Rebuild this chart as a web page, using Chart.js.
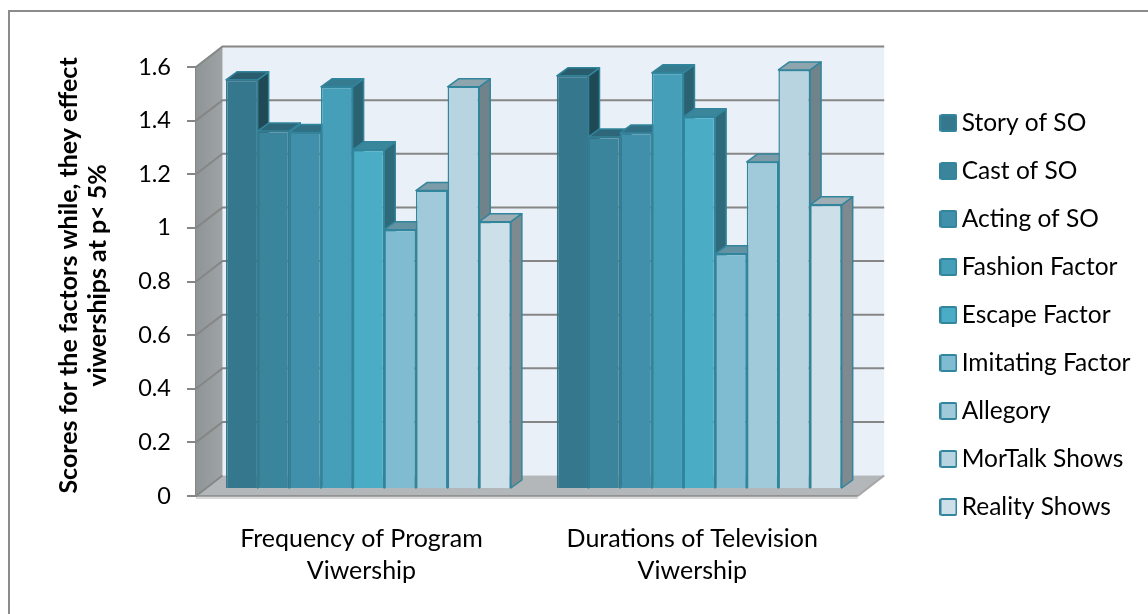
<!DOCTYPE html>
<html><head><meta charset="utf-8">
<style>html,body{margin:0;padding:0;background:#fff}canvas{display:block}</style>
<script src="https://cdn.jsdelivr.net/npm/chart.js@4"></script>
</head><body>
<div style="width:1148px;height:614px"><canvas id="c" width="1148" height="614"></canvas></div>
<script>
const categories = [["Frequency of Program","Viwership"],["Durations of Television","Viwership"]];
const storyOfSO = [1.526,1.541];
const castOfSO = [1.335,1.313];
const actingOfSO = [1.33,1.328];
const fashionFactor = [1.50,1.552];
const escapeFactor = [1.265,1.388];
const imitatingFactor = [0.967,0.877];
const allegory = [1.113,1.22];
const morTalkShows = [1.50,1.563];
const realityShows = [0.997,1.06];
const seriesNames = ["Story of SO","Cast of SO","Acting of SO","Fashion Factor","Escape Factor","Imitating Factor","Allegory","MorTalk Shows","Reality Shows"];
const seriesValues = [storyOfSO,castOfSO,actingOfSO,fashionFactor,escapeFactor,imitatingFactor,allegory,morTalkShows,realityShows];
const seriesColors = ["#35778c","#3a859c","#408fab","#469fb9","#4bacc6","#7fbcd2","#a0c9d9","#b7d4e0","#cde0e9"];
const frontEdges = ["#35778c","#36798f","#38829a","#31859c","#31859c","#31859c","#31859c","#31859c","#31859c"];
const edgeColor = "#31859c";
const FONT = "Lato, Carlito, sans-serif";
const BAR_DX=7, BAR_DY=-7, BAR_DEPTH_X=11, BAR_DEPTH_Y=-8, WALL_DX=26.5, WALL_DY=-20.5;

function shade(hex,f){const n=parseInt(hex.slice(1),16);
  return `rgb(${(n>>16&255)*f|0},${(n>>8&255)*f|0},${(n&255)*f|0})`;}
const swatches = seriesColors.map(col=>{const s=document.createElement('canvas');s.width=18;s.height=18;
  const x=s.getContext('2d');x.fillStyle=col;x.strokeStyle=edgeColor;x.lineWidth=2;
  x.beginPath();x.roundRect(1,1,16,16,1.5);x.fill();x.stroke();return s;});
function poly(ctx,pts,fill,stroke,lw){ctx.beginPath();pts.forEach((p,i)=>i?ctx.lineTo(p[0],p[1]):ctx.moveTo(p[0],p[1]));ctx.closePath();
  if(fill){ctx.fillStyle=fill;ctx.fill();} if(stroke){ctx.strokeStyle=stroke;ctx.lineWidth=lw;ctx.lineJoin='round';ctx.stroke();}}

const frame3d = {
  id:'frame3d',
  beforeDraw(chart){const c=chart.ctx;c.save();c.fillStyle='#fff';c.fillRect(0,0,chart.width,chart.height);
    c.strokeStyle='#8c8c8c';c.lineWidth=2;c.beginPath();c.moveTo(9,614);c.lineTo(9,11);c.lineTo(1148,11);c.stroke();c.restore();},
  beforeDatasetsDraw(chart){
    const c=chart.ctx,y=chart.scales.y,a=chart.chartArea,L=a.left,R=a.right,T=y.getPixelForValue(y.max),B=y.getPixelForValue(0);
    c.save();
    poly(c,[[L+WALL_DX,T+WALL_DY],[R+WALL_DX,T+WALL_DY],[R+WALL_DX,B+WALL_DY],[L+WALL_DX,B+WALL_DY]],'#e9f0f7');
    const g=c.createLinearGradient(L,0,L+WALL_DX,0);g.addColorStop(0,'#8f9597');g.addColorStop(1,'#9ea3a5');
    poly(c,[[L,T],[L+WALL_DX,T+WALL_DY],[L+WALL_DX,B+WALL_DY],[L,B]],g);
    poly(c,[[L,B],[L+WALL_DX,B+WALL_DY],[R+WALL_DX,B+WALL_DY],[R,B]],'#b3b7b9');
    c.strokeStyle='#868686';c.lineWidth=2;
    y.ticks.forEach(t=>{const p=y.getPixelForValue(t.value);
      c.beginPath();c.moveTo(L,p);c.lineTo(L+WALL_DX,p+WALL_DY);
      if(t.value>0)c.lineTo(R+WALL_DX,p+WALL_DY);c.stroke();});
    c.beginPath();c.moveTo(R,B);c.lineTo(R+WALL_DX,B+WALL_DY);c.strokeStyle='#a6a6a6';c.stroke();
    c.strokeStyle='#d9d9d9';c.lineWidth=2;c.beginPath();c.moveTo(L,B+2);c.lineTo(R,B+2);c.stroke();
    c.strokeStyle='#868686';c.lineWidth=1.5;c.beginPath();c.moveTo(L,B);c.lineTo(R,B);c.stroke();
    c.translate(BAR_DX,BAR_DY);
    chart.data.datasets.forEach((ds,i)=>{
      const meta=chart.getDatasetMeta(i),col=seriesColors[i];
      meta.data.forEach(bar=>{
        const p=bar.getProps(['x','y','base','width']),l=p.x-p.width/2,r=p.x+p.width/2,t=p.y,b=p.base;
        poly(c,[[r,t],[r+BAR_DEPTH_X,t+BAR_DEPTH_Y],[r+BAR_DEPTH_X,b+BAR_DEPTH_Y],[r,b]],shade(col,.62),edgeColor,1.5);
        poly(c,[[l,t],[l+BAR_DEPTH_X,t+BAR_DEPTH_Y],[r+BAR_DEPTH_X,t+BAR_DEPTH_Y],[r,t]],shade(col,.78),edgeColor,1.5);
        bar.draw(c);
      });
    });
    c.restore();
  },
  beforeDatasetDraw(){return false;}
};

const cv=document.getElementById('c');
cv.getContext('2d').letterSpacing='0.4px';
new Chart(cv,{
  type:'bar',
  data:{labels:categories,datasets:seriesNames.map((n,i)=>({label:n,data:seriesValues[i],backgroundColor:seriesColors[i],borderColor:frontEdges[i],borderWidth:1.5}))},
  plugins:[frame3d],
  options:{
    responsive:false,animation:false,
    layout:{padding:{left:0,top:16,right:7.5,bottom:0}},
    categoryPercentage:.861,barPercentage:1,
    plugins:{
      tooltip:{enabled:false},
      legend:{position:'right',align:'center',maxWidth:300,labels:{
        font:{family:FONT,size:24.5},color:'#000',usePointStyle:true,pointStyleWidth:2,padding:23.5,
        generateLabels(ch){return Chart.defaults.plugins.legend.labels.generateLabels(ch).map((l,i)=>({...l,pointStyle:swatches[i]}));}
      }}
    },
    scales:{
      x:{grid:{display:false,drawTicks:false},border:{display:false},
        ticks:{font:{family:FONT,size:25,lineHeight:1.28},color:'#000',padding:27,maxRotation:0,autoSkip:false},
        afterFit(s){s.height=118;}},
      x2:{type:'linear',position:'top',axis:'x',display:true,min:0,max:1,grid:{display:false,drawTicks:false},border:{display:false},ticks:{display:false},afterFit(s){s.height=51;}},
      y:{min:0,max:1.6,grid:{drawOnChartArea:false,drawTicks:true,tickLength:9,color:'#868686',lineWidth:2},
        border:{display:true,color:'#868686',width:2},
        ticks:{stepSize:.2,font:{family:FONT,size:23.5},color:'#000',padding:16,callback:v=>String(+v.toFixed(1))},
        title:{display:true,text:["  Scores for the factors while, they effect","  viwerships at p< 5%"],font:{family:FONT,size:25,weight:'bold',lineHeight:1.16},color:'#000',padding:{top:54,bottom:0}},
        afterFit(s){s.width=196;}},
      y2:{position:'right',display:true,min:0,max:1,grid:{display:false,drawTicks:false},border:{display:false},ticks:{display:false},afterFit(s){s.width=66.25;}}
    }
  }
});
</script></body></html>
